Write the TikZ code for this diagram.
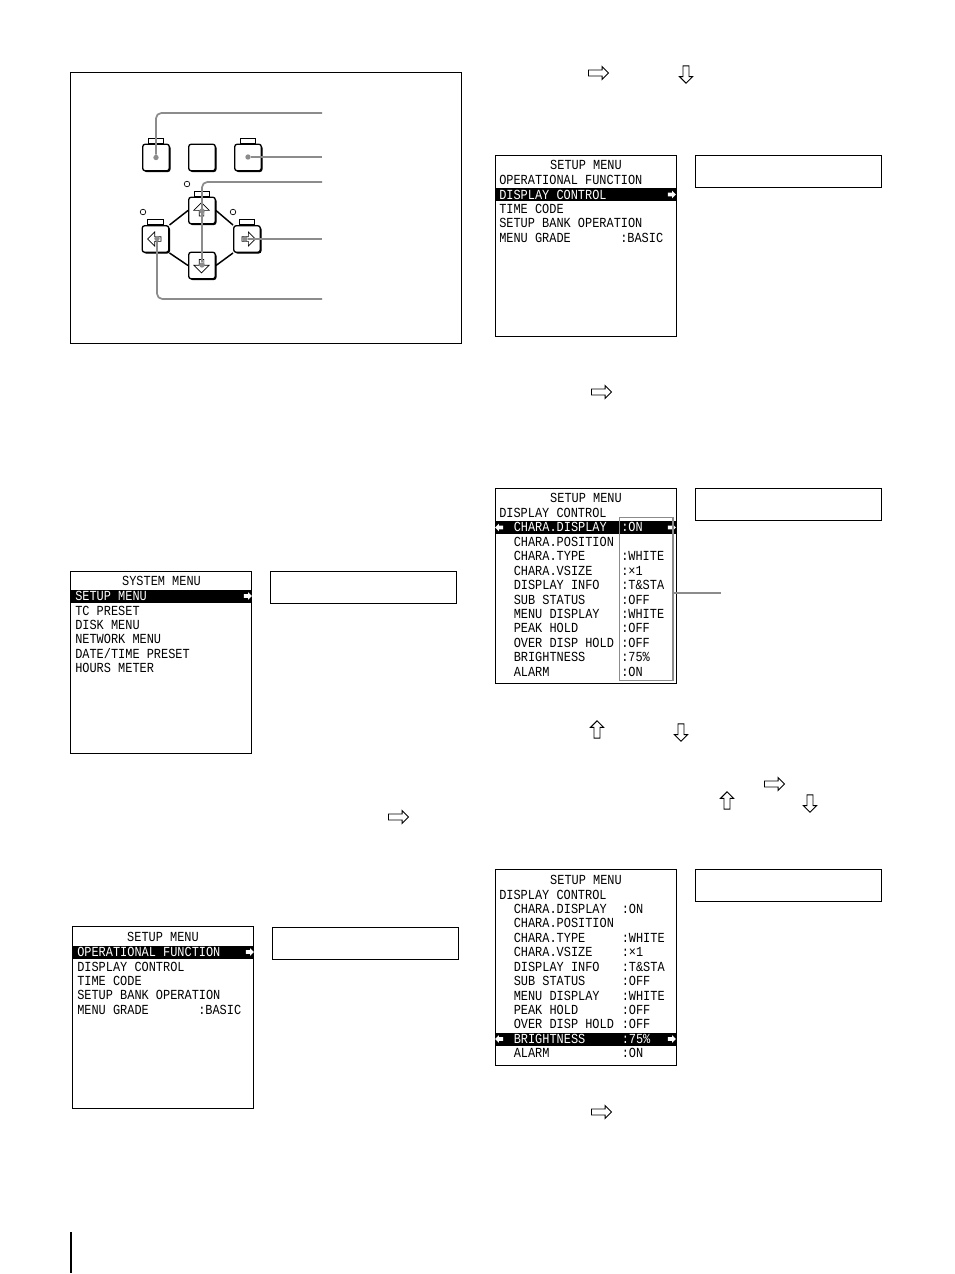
\documentclass[tikz,border=0pt]{standalone}
\usepackage{fontspec}
\setmainfont[FakeStretch=0.86]{Liberation Mono}
\usetikzlibrary{positioning,shapes.arrows,shadows,arrows.meta}

\tikzset{
  pagebox/.style={draw,line width=.75pt,anchor=north west,inner sep=0pt},
  screen/.style={pagebox,minimum width=135.5pt,minimum height=136.5pt},
  screentall/.style={pagebox,minimum width=135.5pt,minimum height=146.5pt},
  capbox/.style={pagebox,minimum width=139.5pt,minimum height=24pt},
  menurow/.style={anchor=west,inner sep=0pt,text height=7pt,text depth=0pt,font=\fontsize{10.4pt}{10.4pt}\selectfont},
  menutitle/.style={menurow,anchor=center},
  menusel/.style={menurow,text=white},
  menubar/.style={fill=black,inner sep=0pt,anchor=west,minimum height=9.75pt},
  barmark/.style={single arrow,fill=white,inner xsep=0pt,inner ysep=1.2pt,minimum height=6pt,single arrow head extend=1.5pt},
  keybtn/.style={draw,fill=white,line width=1pt,rounded corners=2pt,minimum size=20pt,inner sep=0pt,
    general shadow={fill=black,shadow xshift=.9pt,shadow yshift=-.9pt}},
  keytab/.style={draw,fill=white,line width=.7pt,minimum width=11.5pt,minimum height=3.6pt,inner sep=0pt},
  keyarrow/.style={single arrow,draw,line width=.5pt,inner xsep=0pt,inner ysep=1.5pt,minimum height=10pt,single arrow head extend=3.5pt,single arrow head indent=0pt},
  keyarrowv/.style={keyarrow,inner xsep=1.5pt,inner ysep=0pt,single arrow head extend=4pt},
  navarrow/.style={single arrow,draw,line width=.7pt,inner xsep=0pt,inner ysep=1.9pt,minimum height=15pt,single arrow head extend=2.6pt,single arrow head indent=0pt},
  navarrowv/.style={navarrow,inner xsep=1.9pt,inner ysep=0pt,minimum height=13pt},
  lamp/.style={circle,draw,line width=.5pt,minimum size=4.2pt,inner sep=0pt},
  leader/.style={draw=black!45,line width=1.3pt,rounded corners=4pt},
  leaddot/.style={circle,fill=black!45,minimum size=4pt,inner sep=0pt},
  graybox/.style={draw=black!45,line width=1.1pt,anchor=north west,inner sep=0pt,minimum width=40pt,minimum height=122pt}
}

\begin{document}
\begin{tikzpicture}[x=.75pt,y=-.75pt]
  \useasboundingbox (0,0) rectangle (954,1274);

  \draw (70,72) node[pagebox,minimum width=293pt,minimum height=203.5pt] (frame){};

  \draw[line width=.9pt] (71,1232) -- (71,1273);

  \draw
    (156,157.5) node[keybtn] (keya){}
    (202,157.5) node[keybtn] (keyb){}
    (248,157.5) node[keybtn] (keyc){}
    (202,210.5) node[keybtn] (keyup){}
    (155.5,239) node[keybtn] (keyleft){}
    (247,239) node[keybtn] (keyright){}
    (202,265.5) node[keybtn] (keydown){};
  \node[keytab,above=0pt of keya] (taba){};
  \node[keytab,above=0pt of keyc] (tabc){};
  \node[keytab,above=0pt of keyup] (tabup){};
  \node[keytab,above=0pt of keyleft] (tableft){};
  \node[keytab,above=0pt of keyright] (tabright){};
  \begin{scope}[line width=1.1pt]
    \draw (keyup.west) to (keyleft.45);
    \draw (keyup.east) to (keyright.135);
    \draw (keydown.west) to (keyleft.-45);
    \draw (keydown.east) to (keyright.-135);
  \end{scope}
  \draw
    (187,184) node[lamp] (lampup){}
    (143,212) node[lamp] (lampleft){}
    (233,212) node[lamp] (lampright){};
  \draw
    (201.5,210.5) node[keyarrowv,shape border rotate=90] (arrowup){}
    (201.5,265) node[keyarrowv,shape border rotate=270] (arrowdown){}
    (155.5,239) node[keyarrow,shape border rotate=180] (arrowleft){}
    (247.5,239) node[keyarrow] (arrowright){};

  \draw
    (keya.center) node[leaddot] (dota){}
    (248,157) node[leaddot] (dotc){}
    (202,211) node[leaddot] (dotup){}
    (202,265) node[leaddot] (dotdown){}
    (157,238.5) node[leaddot] (dotleft){}
    (245,239) node[leaddot] (dotright){};
  \draw
    (322,113) coordinate (enda)
    (322,157) coordinate (endb)
    (322,182) coordinate (endc)
    (322,239) coordinate (endd)
    (322,299) coordinate (ende);
  \begin{scope}[leader]
    \draw (dota) |- (enda);
    \draw (dotc) -- (endb);
    \draw (dotdown) |- (endc);
    \draw (dotright) -- (endd);
    \draw (dotleft) |- (ende);
  \end{scope}

  \draw
    (597,73) node[navarrow] (nava){}
    (686,73) node[navarrowv,shape border rotate=270] (navb){}
    (600,392) node[navarrow] (navc){}
    (397,817) node[navarrow] (navd){}
    (597,731) node[navarrowv,shape border rotate=90] (nave){}
    (681,731) node[navarrowv,shape border rotate=270] (navf){}
    (773,784) node[navarrow] (navg){}
    (727,802) node[navarrowv,shape border rotate=90] (navh){}
    (810,802) node[navarrowv,shape border rotate=270] (navi){}
    (600,1112) node[navarrow] (navj){};

  \draw (70,571) node[screen] (sysmenu){} (270,571) node[capbox] (syscap){};
  \draw (71,596.5) node[menubar,minimum width=135.5pt] (sysbar){};
  \node[menutitle] (systitle) at (161.5,581) {SYSTEM MENU};
  \node[menusel] (sysa) at (75,596) {SETUP MENU};
  \foreach \txt [count=\i] in {TC PRESET,DISK MENU,NETWORK MENU,DATE/TIME PRESET,HOURS METER}
    \node[menurow] (sys\i) at (75,{596+14.4*\i}) {\txt};
  \node[barmark] (sysmark) at (247,596) {};

  \draw (72,926) node[screen] (oneup){} (272,927) node[capbox] (onecap){};
  \draw (73,952) node[menubar,minimum width=135.5pt] (onebar){};
  \node[menutitle] (onetitle) at (163,937) {SETUP MENU};
  \node[menusel] (onea) at (77,952) {OPERATIONAL FUNCTION};
  \foreach \txt [count=\i] in {DISPLAY CONTROL,TIME CODE,SETUP BANK OPERATION,MENU GRADE}
    \node[menurow] (one\i) at (77,{952+14.4*\i}) {\txt};
  \node[menurow] (oneval) at (198,1009.6) {:BASIC};
  \node[barmark] (onemark) at (249,952) {};

  \draw (495,155) node[screen,minimum height=135.5pt] (twoup){} (695,155) node[capbox] (twocap){};
  \draw (496,194.5) node[menubar,minimum width=135.5pt] (twobar){};
  \node[menutitle] (twotitle) at (586,165) {SETUP MENU};
  \node[menurow] (twoa) at (499,180) {OPERATIONAL FUNCTION};
  \node[menusel] (twob) at (499,194.5) {DISPLAY CONTROL};
  \foreach \txt [count=\i] in {TIME CODE,SETUP BANK OPERATION,MENU GRADE}
    \node[menurow] (two\i) at (499,{194.5+14.4*\i}) {\txt};
  \node[menurow] (twoval) at (620,237.7) {:BASIC};
  \node[barmark] (twomark) at (671,194.5) {};

  \draw (495,488) node[screentall] (three){} (695,488) node[capbox] (threecap){};
  \draw (496,527.5) node[menubar,minimum width=135.5pt] (threebar){};
  \node[menutitle] (threetitle) at (586,498) {SETUP MENU};
  \node[menurow] (threehead) at (499,513) {DISPLAY CONTROL};
  \node[menusel] (threesel) at (513.5,527) {CHARA.DISPLAY};
  \node[menusel] (threeon) at (621,527) {:ON};
  \foreach \txt [count=\i] in {CHARA.POSITION,CHARA.TYPE,CHARA.VSIZE,DISPLAY INFO,SUB STATUS,MENU DISPLAY,PEAK HOLD,OVER DISP HOLD,BRIGHTNESS,ALARM}
    \node[menurow] (threen\i) at (513.5,{527+14.47*\i}) {\txt};
  \foreach \txt/\i in {:WHITE/2,:×1/3,:T\&STA/4,:OFF/5,:WHITE/6,:OFF/7,:OFF/8,:75\%/9,:ON/10}
    \node[menurow] (threev\i) at (621,{527+14.47*\i}) {\txt};
  \node[barmark,shape border rotate=180] (threemarka) at (500,527.5) {};
  \node[barmark] (threemarkb) at (671,527.5) {};
  \draw (619,517) node[graybox] (valuebox){};
  \draw (721,593) coordinate (valueend);
  \draw[leader] (valuebox.east |- valueend) -- (valueend);

  \draw (495,869) node[screentall,minimum height=147pt] (four){} (695,869) node[capbox] (fourcap){};
  \draw (496,1039) node[menubar,minimum width=135.5pt] (fourbar){};
  \node[menutitle] (fourtitle) at (586,879.5) {SETUP MENU};
  \node[menurow] (fourhead) at (499,894.5) {DISPLAY CONTROL};
  \foreach \txt [count=\i from 0] in {CHARA.DISPLAY,CHARA.POSITION,CHARA.TYPE,CHARA.VSIZE,DISPLAY INFO,SUB STATUS,MENU DISPLAY,PEAK HOLD,OVER DISP HOLD}
    \node[menurow] (fourn\i) at (513.5,{908.5+14.47*\i}) {\txt};
  \node[menusel] (foursel) at (513.5,1039) {BRIGHTNESS};
  \node[menurow] (fourlast) at (513.5,1053) {ALARM};
  \foreach \txt/\i in {:ON/0,:WHITE/2,:×1/3,:T\&STA/4,:OFF/5,:WHITE/6,:OFF/7,:OFF/8,:ON/10}
    \node[menurow] (fourv\i) at (621.5,{908.5+14.47*\i}) {\txt};
  \node[menusel] (fourval) at (621.5,1039) {:75\%};
  \node[barmark,shape border rotate=180] (fourmarka) at (500,1039) {};
  \node[barmark] (fourmarkb) at (671,1039) {};
\end{tikzpicture}
\end{document}
